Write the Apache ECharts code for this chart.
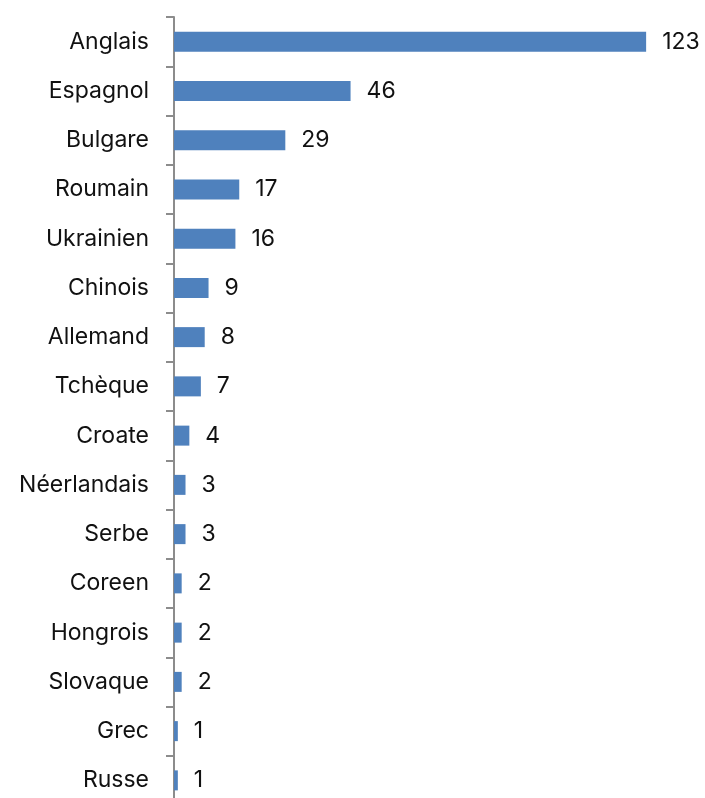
<!DOCTYPE html>
<html>
<head>
<meta charset="utf-8">
<script src="https://cdn.jsdelivr.net/npm/echarts@6/dist/echarts.min.js"></script>
<style>
  html, body { margin: 0; padding: 0; background: #fff; }
  #chart { width: 705px; height: 798px; }
</style>
</head>
<body>
<div id="chart"></div>
<script>
// categories and values
var langues = ['Anglais', 'Espagnol', 'Bulgare', 'Roumain', 'Ukrainien', 'Chinois', 'Allemand', 'Tchèque',
  'Croate', 'Néerlandais', 'Serbe', 'Coreen', 'Hongrois', 'Slovaque', 'Grec', 'Russe']
var nombres = [123, 46, 29, 17, 16, 9, 8, 7, 4, 3, 3, 2, 2, 2, 1, 1]

var chart = echarts.init(document.getElementById('chart'))
var option = {
  animation: false,
  grid: {
    left: 174,
    top: 17,
    width: 499,
    height: 788,
    outerBoundsMode: 'none'
  },
  xAxis: {
    type: 'value',
    min: 0,
    max: 130,
    show: false
  },
  yAxis: {
    type: 'category',
    inverse: true,
    data: langues,
    axisLine: { lineStyle: { color: '#8c8c8c', width: 2 } },
    axisTick: { show: true, length: 8, lineStyle: { color: '#8c8c8c', width: 2 } },
    axisLabel: {
      margin: 25,
      color: '#111',
      fontSize: 23,
      fontFamily: 'Inter'
    }
  },
  series: [{
    type: 'bar',
    data: nombres,
    barWidth: 20,
    itemStyle: { color: '#4f81bd' },
    label: {
      show: true,
      position: 'right',
      distance: 16,
      color: '#111',
      fontSize: 23,
      fontFamily: 'Inter'
    }
  }]
}
chart.setOption(option)
</script>
</body>
</html>
